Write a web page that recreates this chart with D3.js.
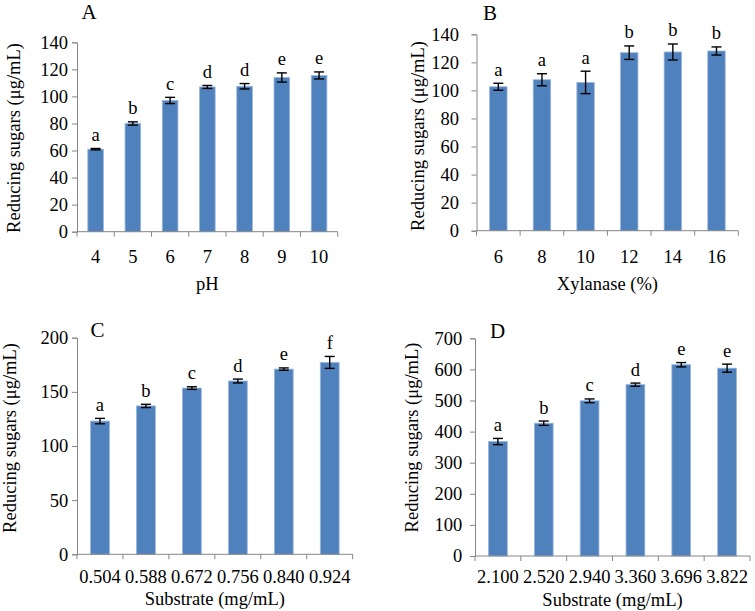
<!DOCTYPE html>
<html>
<head>
<meta charset="utf-8">
<script src="https://cdn.jsdelivr.net/npm/d3@7"></script>
<style>
  html, body { margin: 0; padding: 0; background: #fff; }
  svg { display: block; }
  text { font-family: "Liberation Serif", "Times New Roman", serif; fill: #000; }
</style>
</head>
<body>
<svg id="chart" width="755" height="611"></svg>
<script>
// ---- Data ----
const phCats = ["4", "5", "6", "7", "8", "9", "10"];
const phValues = [61, 80, 97, 107, 107.5, 114, 115.5];
const phErrors = [0.5, 1.2, 2.3, 1.1, 2, 3.4, 2.6];
const phLetters = ["a", "b", "c", "d", "d", "e", "e"];
const phTicks = [0, 20, 40, 60, 80, 100, 120, 140];

const xylCats = ["6", "8", "10", "12", "14", "16"];
const xylValues = [102.6, 107.6, 105.7, 126.9, 127.4, 128.1];
const xylErrors = [2.5, 4.3, 8, 4.8, 5.7, 2.9];
const xylLetters = ["a", "a", "a", "b", "b", "b"];
const xylTicks = [0, 20, 40, 60, 80, 100, 120, 140];

const subCCats = ["0.504", "0.588", "0.672", "0.756", "0.840", "0.924"];
const subCValues = [123, 137, 153.5, 160, 171, 177.2];
const subCErrors = [2.5, 1.5, 1.2, 1.8, 1.1, 5.5];
const subCLetters = ["a", "b", "c", "d", "e", "f"];
const subCTicks = [0, 50, 100, 150, 200];

const subDCats = ["2.100", "2.520", "2.940", "3.360", "3.696", "3.822"];
const subDValues = [368, 427, 499, 551, 615, 604];
const subDErrors = [10, 7, 6, 5, 7, 13];
const subDLetters = ["a", "b", "c", "d", "e", "e"];
const subDTicks = [0, 100, 200, 300, 400, 500, 600, 700];

const yTitle = "Reducing sugars (\u03bcg/mL)";

// ---- Layout (positions only) ----
const panels = [
  { id: "A", cats: phCats, values: phValues, errors: phErrors, letters: phLetters, ticks: phTicks,
    xTitle: "pH", x0: 77, x1: 337.7, yBot: 231.7, yTop: 42.3, pad: 0.58,
    yLabGap: 9, xLabOff: 31, xTitleY: 290, yTitleX: 19.5, yTitleY: 138,
    tag: { x: 89, y: 19 } },
  { id: "B", cats: xylCats, values: xylValues, errors: xylErrors, letters: xylLetters, ticks: xylTicks,
    xTitle: "Xylanase (%)", x0: 476.5, x1: 738.3, yBot: 230.7, yTop: 34.3, pad: 0.6,
    yLabGap: 17.5, xLabOff: 32, xTitleY: 290, yTitleX: 423.5, yTitleY: 136,
    tag: { x: 490, y: 20 } },
  { id: "C", cats: subCCats, values: subCValues, errors: subCErrors, letters: subCLetters, ticks: subCTicks,
    xTitle: "Substrate (mg/mL)", x0: 77, x1: 352.7, yBot: 554.3, yTop: 337.7, pad: 0.59,
    yLabGap: 8.7, xLabOff: 28.8, xTitleY: 604.5, yTitleX: 15.5, yTitleY: 438,
    tag: { x: 97.5, y: 337 } },
  { id: "D", cats: subDCats, values: subDValues, errors: subDErrors, letters: subDLetters, ticks: subDTicks,
    xTitle: "Substrate (mg/mL)", x0: 475, x1: 750, yBot: 556, yTop: 338.3, pad: 0.59,
    yLabGap: 12.7, xLabOff: 27, xTitleY: 606, yTitleX: 418, yTitleY: 437.5,
    tag: { x: 497.5, y: 338 } }
];

const svg = d3.select("#chart");
const axisColor = "#868686";
const barColor = "#4F81BD";
const fontSize = 18.5;

panels.forEach(p => {
  const g = svg.append("g");
  const x = d3.scaleBand().domain(p.cats).range([p.x0, p.x1])
    .paddingInner(p.pad).paddingOuter(p.pad / 2);
  const yMax = p.ticks[p.ticks.length - 1];
  const y = d3.scaleLinear().domain([0, yMax]).range([p.yBot, p.yTop]);
  const step = x.step();
  const rangeStart = x.range()[0];

  // Y axis
  const yAxis = d3.axisLeft(y).tickValues(p.ticks).tickSize(5)
    .tickPadding(p.yLabGap - 5).tickFormat(d3.format("d"));
  const ya = g.append("g").attr("transform", `translate(${p.x0},0)`).call(yAxis);
  ya.select(".domain").attr("stroke", axisColor).attr("stroke-width", 1);
  ya.selectAll(".tick line").attr("stroke", axisColor);
  ya.selectAll(".tick text")
    .style("font-family", '"Liberation Serif", "Times New Roman", serif')
    .style("font-size", fontSize + "px").attr("fill", "#000");

  // Bars
  g.selectAll("rect.bar").data(p.values).join("rect")
    .attr("class", "bar")
    .attr("x", (d, i) => x(p.cats[i]))
    .attr("width", x.bandwidth())
    .attr("y", d => y(d))
    .attr("height", d => y(0) - y(d))
    .attr("fill", barColor)
    .attr("stroke", "#9DB7DB")
    .attr("stroke-width", 0.8);

  // X axis line and boundary ticks
  g.append("line").attr("x1", p.x0).attr("x2", p.x1)
    .attr("y1", y(0)).attr("y2", y(0)).attr("stroke", axisColor).attr("stroke-width", 1);
  d3.range(p.cats.length + 1).forEach(i => {
    const xx = rangeStart + i * step;
    g.append("line").attr("x1", xx).attr("x2", xx)
      .attr("y1", y(0)).attr("y2", y(0) + 5).attr("stroke", axisColor).attr("stroke-width", 1);
  });

  // X tick labels
  g.selectAll("text.xlab").data(p.cats).join("text")
    .attr("class", "xlab")
    .attr("x", d => x(d) + x.bandwidth() / 2)
    .attr("y", y(0) + p.xLabOff)
    .attr("text-anchor", "middle")
    .style("font-size", fontSize + "px")
    .text(d => d);

  // Error bars
  const cap = 5;
  p.values.forEach((v, i) => {
    const cx = x(p.cats[i]) + x.bandwidth() / 2;
    const e = p.errors[i];
    const eg = g.append("g").attr("stroke", "#000").attr("stroke-width", 1.4);
    eg.append("line").attr("x1", cx).attr("x2", cx).attr("y1", y(v - e)).attr("y2", y(v + e));
    eg.append("line").attr("x1", cx - cap).attr("x2", cx + cap).attr("y1", y(v - e)).attr("y2", y(v - e));
    eg.append("line").attr("x1", cx - cap).attr("x2", cx + cap).attr("y1", y(v + e)).attr("y2", y(v + e));
  });

  // Significance letters
  g.selectAll("text.sig").data(p.letters).join("text")
    .attr("class", "sig")
    .attr("x", (d, i) => x(p.cats[i]) + x.bandwidth() / 2)
    .attr("y", (d, i) => y(p.values[i] + p.errors[i]) - 7.5)
    .attr("text-anchor", "middle")
    .style("font-size", fontSize + "px")
    .text(d => d);

  // Axis titles
  g.append("text")
    .attr("x", (p.x0 + p.x1) / 2).attr("y", p.xTitleY)
    .attr("text-anchor", "middle")
    .style("font-size", fontSize + "px")
    .text(p.xTitle);
  g.append("text")
    .attr("transform", `translate(${p.yTitleX},${p.yTitleY}) rotate(-90)`)
    .attr("text-anchor", "middle")
    .style("font-size", "18.5px")
    .text(yTitle);

  // Panel tag
  g.append("text")
    .attr("x", p.tag.x).attr("y", p.tag.y)
    .attr("text-anchor", "middle")
    .style("font-size", "21px")
    .text(p.id);
});
</script>
</body>
</html>
